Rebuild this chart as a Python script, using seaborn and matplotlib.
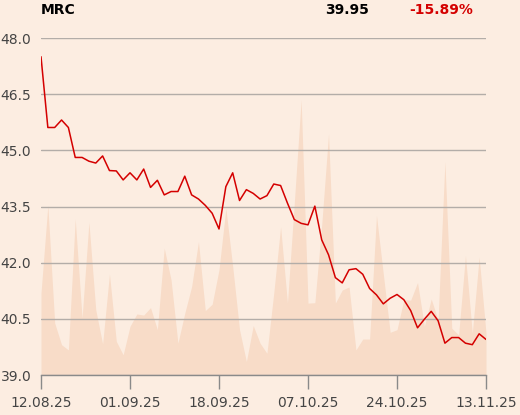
import pandas as pd
import matplotlib
matplotlib.use("Agg")
import matplotlib.pyplot as plt
import seaborn as sns

# Harga penutupan harian
price = [47.50, 45.61, 45.61, 45.81, 45.61, 44.81, 44.81, 44.71, 44.66, 44.85,
         44.46, 44.45, 44.21, 44.40, 44.21, 44.50, 44.01, 44.20, 43.81, 43.90,
         43.90, 44.31, 43.81, 43.70, 43.53, 43.32, 42.90, 44.03, 44.40, 43.66,
         43.95, 43.85, 43.70, 43.79, 44.10, 44.06, 43.59, 43.15, 43.05, 43.01,
         43.51, 42.61, 42.21, 41.60, 41.46, 41.81, 41.84, 41.69, 41.31, 41.14,
         40.90, 41.05, 41.15, 41.01, 40.72, 40.26, 40.49, 40.70, 40.45, 39.85,
         40.00, 40.00, 39.85, 39.81, 40.10, 39.95]

# Volume (diskalakan ke sumbu harga)
volume = [41.19, 43.53, 40.39, 39.81, 39.67, 43.17, 40.52, 43.08, 40.74, 39.83,
          41.70, 39.90, 39.54, 40.30, 40.63, 40.60, 40.80, 40.21, 42.39, 41.54,
          39.85, 40.65, 41.36, 42.56, 40.72, 40.89, 41.81, 43.45, 41.90, 40.21,
          39.36, 40.32, 39.85, 39.58, 41.19, 42.96, 40.92, 43.60, 46.35, 40.92,
          40.93, 43.00, 45.44, 40.92, 41.27, 41.35, 39.67, 39.96, 39.96, 43.26,
          41.70, 40.14, 40.21, 41.01, 41.00, 41.47, 40.30, 41.03, 40.47, 44.70,
          40.25, 40.07, 42.19, 40.12, 42.15, 40.12]

tick_pos = [0, 13, 26, 39, 52, 65]
tick_labels = ['12.08.25', '01.09.25', '18.09.25', '07.10.25', '24.10.25', '13.11.25']
y_ticks = [39.0, 40.5, 42.0, 43.5, 45.0, 46.5, 48.0]

ticker = 'MRC'
last_price = '39.95'
change = '-15.89%'

bg = '#FCEDE1'
df = pd.DataFrame({'idx': range(len(price)), 'price': price, 'volume': volume})

sns.set_theme(style='white', rc={'figure.facecolor': bg, 'axes.facecolor': bg})
plt.rcParams['font.family'] = ['DejaVu Sans']

fig = plt.figure(figsize=(5.2, 4.15), dpi=100)
ax = fig.add_axes([41 / 520, 40 / 415, 445 / 520, 337 / 415])

# Area volume di belakang
ax.fill_between(df['idx'], 39.0, df['volume'], color='#F8DCC8', linewidth=0, zorder=1)

# Garis harga
sns.lineplot(data=df, x='idx', y='price', ax=ax, color='#D40000', linewidth=1.1, zorder=3)

for y in y_ticks:
    ax.axhline(y, color='#B3ADA8', linewidth=1, zorder=2)

ax.set_xlim(0, 65)
ax.set_ylim(39.0, 48.0)
ax.set_xticks(tick_pos)
ax.set_xticklabels(tick_labels)
ax.set_yticks(y_ticks)
ax.set_yticklabels([f'{v:.1f}' for v in y_ticks])
ax.set_xlabel('')
ax.set_ylabel('')

for s in ['top', 'right', 'left']:
    ax.spines[s].set_visible(False)
ax.spines['bottom'].set_color('#8A8A8A')
ax.spines['bottom'].set_linewidth(1)

ax.tick_params(axis='x', bottom=True, length=10, width=1, color='#8A8A8A',
               pad=5, labelsize=10, labelcolor='#444444')
ax.tick_params(axis='y', left=False, length=0, pad=7, labelsize=10, labelcolor='#444444')

fig.text(41 / 520, 1 - 10 / 415, ticker, ha='left', va='center',
         fontsize=10, fontweight='bold', color='black')
fig.text(369 / 520, 1 - 10 / 415, last_price, ha='right', va='center',
         fontsize=10, fontweight='bold', color='black')
fig.text(473 / 520, 1 - 10 / 415, change, ha='right', va='center',
         fontsize=10, fontweight='bold', color='#D40000')

fig.savefig('out.png', dpi=100, facecolor=bg)
